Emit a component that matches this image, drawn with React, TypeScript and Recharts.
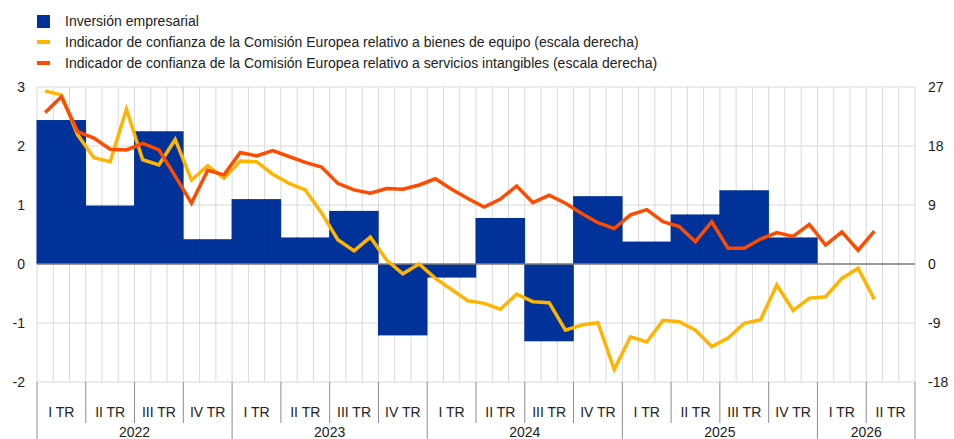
import { ComposedChart, Bar, Line, XAxis, YAxis, CartesianGrid, ReferenceLine } from 'recharts';

// Quarterly business investment (left scale), 2022 Q1 - 2025 Q4
const quarters = ['I TR', 'II TR', 'III TR', 'IV TR'];
const years = ['2022', '2023', '2024', '2025', '2026'];
const investment = [2.44, 0.99, 2.25, 0.42, 1.1, 0.45, 0.9, -1.21, -0.23, 0.78, -1.31, 1.15, 0.38, 0.84, 1.25, 0.45];

// Monthly EC confidence indicators (right scale), Jan 2022 - Apr 2026
const capitalGoods = [
  26.4, 25.8, 19.7, 16.2, 15.6, 23.6, 15.9, 15.1, 19.0, 12.8, 15.0, 13.1,
  15.7, 15.6, 13.7, 12.3, 11.3, 7.8, 3.7, 2.0, 4.1, 0.6, -1.5, 0.0,
  -2.2, -3.9, -5.6, -6.0, -6.9, -4.6, -5.75, -5.9, -10.1, -9.3, -8.95, -16.1,
  -11.1, -11.9, -8.6, -8.8, -10.1, -12.6, -11.3, -9.05, -8.5, -3.2, -7.1, -5.2,
  -5.0, -2.2, -0.65, -5.4,
];
const intangibles = [
  23.1, 25.5, 20.2, 19.2, 17.5, 17.4, 18.4, 17.4, 13.4, 9.3, 14.3, 13.6,
  17.0, 16.5, 17.3, 16.4, 15.5, 14.8, 12.3, 11.3, 10.8, 11.5, 11.4, 12.05,
  13.0, 11.4, 10.0, 8.7, 9.9, 11.9, 9.35, 10.5, 9.26, 7.7, 6.3, 5.4,
  7.5, 8.3, 6.45, 5.7, 3.4, 6.45, 2.4, 2.4, 3.8, 4.8, 4.2, 6.05,
  2.9, 4.9, 2.1, 5.0,
];
const monthCount = 54; // 18 quarters, up to 2026 Q2

const BLUE = '#003299';
const YELLOW = '#FFB400';
const ORANGE = '#FF4B00';
const FONT = '"Liberation Sans", Arial, sans-serif';

const data = Array.from({ length: monthCount }, (_, i) => ({
  m: String(i),
  inv: i < investment.length * 3 ? investment[Math.floor(i / 3)] : null,
  cap: i < capitalGoods.length ? capitalGoods[i] : null,
  intang: i < intangibles.length ? intangibles[i] : null,
}));

const W = 954;
const H = 439;
const LEFT = 37;
const RIGHT = 39;
const TOP = 87;
const XH = 57;
const BW = (W - LEFT - RIGHT) / monthCount;

// monthly bars overlap slightly so one quarter reads as a single block
function SolidBar(props: any) {
  const { x, y, width, height, fill } = props;
  if (height == null || width == null) return null;
  const h = Math.abs(height);
  const top = height < 0 ? y + height : y;
  return <rect x={x - 0.5} y={top} width={width + 1} height={h} fill={fill} />;
}

function MonthTick(props: any) {
  const { x, y, payload } = props;
  const i = Number(payload.value);
  const parts: any[] = [];
  if (i % 3 === 0) {
    const lx = x - BW / 2;
    parts.push(<line key="q" x1={lx} y1={y} x2={lx} y2={y + (i % 12 === 0 ? XH : 41)} stroke="#8c8c8c" strokeWidth={1} />);
  }
  if (i === monthCount - 1) {
    const lx = x + BW / 2;
    parts.push(<line key="e" x1={lx} y1={y} x2={lx} y2={y + XH} stroke="#8c8c8c" strokeWidth={1} />);
  }
  if (i % 3 === 1) {
    parts.push(
      <text key="t" x={x} y={y + 35} textAnchor="middle" fontSize={14} fill="#222" fontFamily={FONT}>
        {quarters[Math.floor(i / 3) % 4]}
      </text>
    );
  }
  const yearIdx = Math.floor(i / 12);
  const monthsInYear = Math.min(12, monthCount - yearIdx * 12);
  if (i % 12 === monthsInYear / 2 - 1) {
    parts.push(
      <text key="y" x={x + BW / 2} y={y + 55} textAnchor="middle" fontSize={14} fill="#222" fontFamily={FONT}>
        {years[yearIdx]}
      </text>
    );
  }
  return <g>{parts}</g>;
}

const legendItems = [
  { label: 'Inversión empresarial', color: BLUE, kind: 'box' },
  { label: 'Indicador de confianza de la Comisión Europea relativo a bienes de equipo (escala derecha)', color: YELLOW, kind: 'line' },
  { label: 'Indicador de confianza de la Comisión Europea relativo a servicios intangibles (escala derecha)', color: ORANGE, kind: 'line' },
];

export default function App() {
  return (
    <div style={{ position: 'relative', width: W, height: H, background: '#fff', fontFamily: FONT, overflow: 'hidden' }}>
      <style>{'body{margin:0;overflow:hidden}'}</style>
      {legendItems.map((it, k) => (
        <div key={k} style={{ position: 'absolute', left: 37, top: 12 + k * 21, height: 18, display: 'flex', alignItems: 'center' }}>
          <div
            style={{
              width: 13,
              height: it.kind === 'box' ? 13 : 4,
              background: it.color,
              marginRight: 15,
            }}
          />
          <span style={{ fontSize: 14, color: '#222', whiteSpace: 'nowrap' }}>{it.label}</span>
        </div>
      ))}
      <ComposedChart
        width={W}
        height={H}
        data={data}
        margin={{ top: TOP, right: 0, bottom: 0, left: 0 }}
        barCategoryGap={0}
        barGap={0}
        style={{ position: 'absolute', left: 0, top: 0 }}
      >
        <CartesianGrid
          stroke="#d9d9d9"
          strokeWidth={1}
          yAxisId="left"
          verticalCoordinatesGenerator={({ offset }: any) =>
            Array.from({ length: monthCount + 1 }, (_, k) => offset.left + (k * offset.width) / monthCount)
          }
        />
        <XAxis
          dataKey="m"
          interval={0}
          height={XH}
          tickSize={0}
          tickMargin={0}
          axisLine={false}
          tickLine={false}
          tick={<MonthTick />}
        />
        <YAxis
          yAxisId="left"
          domain={[-2, 3]}
          ticks={[-2, -1, 0, 1, 2, 3]}
          width={LEFT}
          axisLine={false}
          tickLine={false}
          tickSize={0}
          tickMargin={12}
          tick={{ fontSize: 14, fill: '#222', fontFamily: FONT }}
        />
        <YAxis
          yAxisId="right"
          orientation="right"
          domain={[-18, 27]}
          ticks={[-18, -9, 0, 9, 18, 27]}
          width={RIGHT}
          axisLine={false}
          tickLine={false}
          tickSize={0}
          tickMargin={13}
          tick={{ fontSize: 14, fill: '#222', fontFamily: FONT, textAnchor: 'start' }}
        />
        <Bar yAxisId="left" dataKey="inv" fill={BLUE} shape={<SolidBar />} isAnimationActive={false} />
        <ReferenceLine yAxisId="left" y={0} stroke="#808080" strokeWidth={1.5} />
        <Line yAxisId="right" dataKey="cap" stroke={YELLOW} strokeWidth={3.5} dot={false} isAnimationActive={false} />
        <Line yAxisId="right" dataKey="intang" stroke={ORANGE} strokeWidth={3.5} dot={false} isAnimationActive={false} />
      </ComposedChart>
    </div>
  );
}
